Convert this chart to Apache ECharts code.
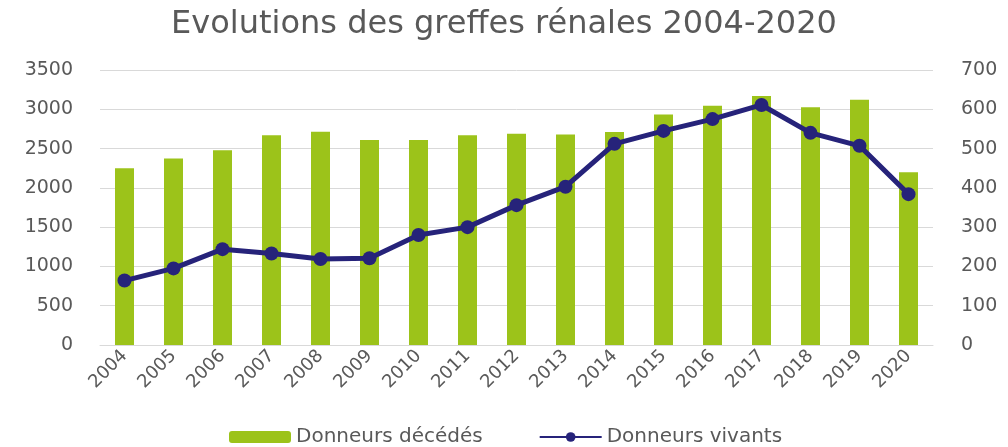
<!DOCTYPE html>
<html>
<head>
<meta charset="utf-8">
<script src="https://cdn.jsdelivr.net/npm/echarts@6/dist/echarts.min.js"></script>
<style>
  html, body { margin: 0; padding: 0; background: #fff; }
  #chart { width: 1008px; height: 447px; }
</style>
</head>
<body>
<div id="chart"></div>
<script>
// données
var years = ["2004", "2005", "2006", "2007", "2008", "2009", "2010", "2011", "2012",
  "2013", "2014", "2015", "2016", "2017", "2018", "2019", "2020"];
var donneursDecedes = [2250, 2375, 2480, 2670, 2715, 2610, 2610, 2670, 2690,
  2680, 2710, 2935, 3045, 3170, 3025, 3120, 2200];
var donneursVivants = [164, 195, 244, 233, 219, 221, 280, 300, 356,
  403, 512, 545, 575, 611, 540, 507, 384];

var myChart = echarts.init(document.getElementById("chart"));
var font = "DejaVu Sans";

var option = {
  title: {
    text: "Evolutions des greffes rénales 2004-2020",
    left: "center",
    top: 4,
    textStyle: { fontFamily: font, fontSize: 32, fontWeight: "normal", color: "#595959" }
  },
  legend: {
    bottom: -5,
    left: 224,
    itemGap: 56,
    itemWidth: 62,
    itemHeight: 12,
    textStyle: { fontFamily: font, fontSize: 20, color: "#595959" },
    data: [
      { name: "Donneurs décédés" },
      { name: "Donneurs vivants" }
    ]
  },
  grid: {
    left: 100,
    right: 75,
    top: 70,
    bottom: 102
  },
  xAxis: {
    type: "category",
    data: years,
    axisTick: { show: false },
    axisLine: { lineStyle: { color: "#d9d9d9" } },
    axisLabel: {
      rotate: 45,
      fontFamily: font,
      fontSize: 18,
      color: "#595959",
      margin: 8
    }
  },
  yAxis: [
    {
      type: "value",
      min: 0,
      max: 3500,
      interval: 500,
      axisLabel: {
        fontFamily: font, fontSize: 19, color: "#595959", margin: 27,
        formatter: function (v) { return String(v); }
      },
      splitLine: { lineStyle: { color: "#d9d9d9" } }
    },
    {
      type: "value",
      min: 0,
      max: 700,
      interval: 100,
      axisLabel: {
        fontFamily: font, fontSize: 19, color: "#595959", margin: 28,
        formatter: function (v) { return String(v); }
      },
      splitLine: { show: false }
    }
  ],
  series: [
    {
      name: "Donneurs décédés",
      type: "bar",
      barWidth: 19,
      itemStyle: { color: "#9cc31a" },
      data: donneursDecedes
    },
    {
      name: "Donneurs vivants",
      type: "line",
      yAxisIndex: 1,
      symbol: "circle",
      symbolSize: 14,
      lineStyle: { color: "#26237a", width: 5 },
      itemStyle: { color: "#26237a" },
      data: donneursVivants
    }
  ]
};
myChart.setOption(option);
</script>
</body>
</html>
